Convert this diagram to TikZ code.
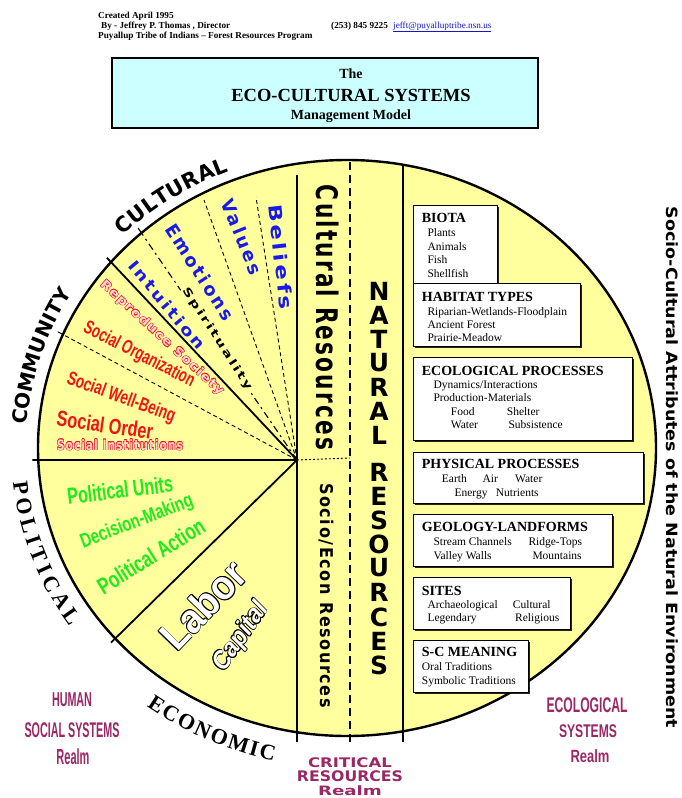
\documentclass[tikz,border=0pt]{standalone}
\usepackage{fontspec}
\usepackage{graphicx}
\usetikzlibrary{calc,decorations.text,shadows}
\setmainfont{Liberation Serif}
\newfontfamily\serifrm{Liberation Serif}
\newfontfamily\armf{Liberation Sans}
\newfontfamily\heavyf{DejaVu Sans}
\newfontfamily\spacedf{DejaVu Sans}[LetterSpace=14]
\newfontfamily\colf{DejaVu Sans}[LetterSpace=10]
\newfontfamily\widef{DejaVu Sans}[LetterSpace=8]

\definecolor{pie}{RGB}{255,255,158}
\definecolor{titlefill}{RGB}{204,255,255}
\definecolor{realm}{RGB}{153,40,100}
\definecolor{cblue}{RGB}{25,25,235}
\definecolor{sred}{RGB}{240,20,20}
\definecolor{pinkfill}{RGB}{255,215,215}
\definecolor{pgreen}{RGB}{30,235,30}
\definecolor{linkblue}{RGB}{20,20,200}

% text scaled to a given width and total height (in pt)
\newcommand\fit[3]{\resizebox*{#1pt}{#2pt}{#3}}

% outlined lettering: #1 outline colour, #2 fill colour, #3 outline offset, #4 text
\newbox\olbox
\newdimen\olA \newdimen\olB
\newcommand\outlined[4]{%
  \setbox\olbox=\hbox{#4}%
  \olA=#3\relax \olB=0.707\olA
  \rlap{\color{#1}\hskip\olA\copy\olbox}%
  \rlap{\color{#1}\hskip-\olA\copy\olbox}%
  \rlap{\color{#1}\raise\olA\copy\olbox}%
  \rlap{\color{#1}\lower\olA\copy\olbox}%
  \rlap{\color{#1}\hskip\olB\raise\olB\copy\olbox}%
  \rlap{\color{#1}\hskip-\olB\raise\olB\copy\olbox}%
  \rlap{\color{#1}\hskip\olB\lower\olB\copy\olbox}%
  \rlap{\color{#1}\hskip-\olB\lower\olB\copy\olbox}%
  {\color{#2}\box\olbox}}

\begin{document}
\begin{tikzpicture}[x=1pt,y=-1pt,
  txt/.style={inner sep=0pt, outer sep=0pt, anchor=center},
  hdr/.style={anchor=base west, inner sep=0pt, font=\serifrm\bfseries\fontsize{9.2}{11}\selectfont},
  ttl/.style={anchor=base, inner sep=0pt, font=\serifrm\bfseries},
  head/.style={anchor=base west, inner sep=0pt, font=\serifrm\bfseries\fontsize{14}{16}\selectfont},
  item/.style={anchor=base west, inner sep=0pt, font=\serifrm\fontsize{11.5}{13}\selectfont},
  panel/.style={draw=black, line width=1.1pt, fill=white, anchor=north west, inner sep=0pt,
    drop shadow={shadow xshift=1.4pt, shadow yshift=-1.4pt, fill=black, opacity=0.85}},
  nr/.style={txt, font=\heavyf\bfseries\fontsize{25}{25}\selectfont},
  divider/.style={line width=1.8pt},
  softdash/.style={line width=0.9pt, dash pattern=on 4pt off 3pt},
  rim/.style={line width=2.4pt},
  rimtext/.style={decorate, decoration={text along path, text align={fit to path}, text={#1}}},
]
\useasboundingbox[fill=white] (0,0) rectangle (682,798);

% ---------- header ----------
\node[hdr] (created) at (98,18.3) {Created April 1995};
\node[hdr] (author) at (101,28.3) {By - Jeffrey P. Thomas , Director};
\node[hdr] (tribe) at (98,38) {Puyallup Tribe of Indians – Forest Resources Program};
\node[hdr] (phone) at (331,28.3) {(253) 845 9225};
\node[hdr, font=\serifrm\fontsize{9.2}{11}\selectfont, text=linkblue] (mail) at (393,28.3) {\underline{jefft@puyalluptribe.nsn.us}};

% ---------- title ----------
\node[draw=black, line width=2pt, fill=titlefill, anchor=north west,
      minimum width=426pt, minimum height=70pt, inner sep=0pt] (titlebox) at (111,57) {};
\node[ttl, font=\serifrm\bfseries\fontsize{14}{16}\selectfont] (the) at (351,78) {The};
\node[ttl, font=\serifrm\bfseries\fontsize{18.5}{20}\selectfont] (eco) at (351,101) {ECO-CULTURAL SYSTEMS};
\node[ttl, font=\serifrm\bfseries\fontsize{14}{16}\selectfont] (mgmt) at (351,119) {Management Model};

% ---------- the wheel ----------
\coordinate (ctr) at (347,448);
\coordinate (hub) at (297,460);
\fill[pie] (ctr) ellipse [x radius=309, y radius=288];

% rim points of the sector dividers
\coordinate (rA) at ([shift={(347,448)}]220.2:309 and 288);
\coordinate (rB) at ([shift={(347,448)}]203.2:309 and 288);
\coordinate (rC) at ([shift={(347,448)}]228.3:309 and 288);
\coordinate (rD) at ([shift={(347,448)}]177.6:309 and 288);
\coordinate (rE) at ([shift={(347,448)}]138.6:309 and 288);
\coordinate (dV) at (204,200);
\coordinate (dB) at (256,197);

\draw[divider] (hub) -- (rA) -- ($(rA)!-6pt!(hub)$);
\draw[divider] (hub) -- (rD) -- ($(rD)!-6pt!(hub)$);
\draw[divider] (hub) -- (rE) -- ($(rE)!-6pt!(hub)$);
\draw[softdash] (hub) -- (rB);
\draw[line width=0.9pt] (rB) -- ($(rB)!-6pt!(hub)$);
\draw[line width=1.1pt, dash pattern=on 7pt off 4pt on 2pt off 4pt] (hub) -- (rC);
\draw[line width=1.1pt] (rC) -- ($(rC)!-6pt!(hub)$);
\draw[softdash] (hub) -- (dV);
\draw[softdash] (hub) -- (dB);

% resource columns
\coordinate (c1t) at (297,175);  \coordinate (c1b) at (297,742);
\coordinate (c2t) at (350,162);  \coordinate (c2b) at (350,742);
\coordinate (c3t) at (403,165);  \coordinate (c3b) at (403,742);
\draw[divider] (c1t) -- (c1b);
\draw[line width=1.8pt, dash pattern=on 8pt off 5pt] (c2t) -- (c2b);
\draw[line width=2.2pt] (c3t) -- (c3b);
\coordinate (dotend) at (350,458);
\draw[line width=0.9pt, dash pattern=on 2pt off 2pt] (hub) -- (dotend);

\draw[rim] (ctr) ellipse [x radius=309, y radius=288];

% ---------- rim labels ----------
\path[rimtext={|\heavyf\bfseries\fontsize{21}{21}\selectfont|CULTURAL}]
  ([shift={(347,448)}]225.4:319 and 298) arc[start angle=225.4, end angle=248.2, x radius=319, y radius=298];
\path[rimtext={|\heavyf\bfseries\fontsize{20}{20}\selectfont|COMMUNITY}]
  ([shift={(347,448)}]184.4:321 and 300) arc[start angle=184.4, end angle=211, x radius=321, y radius=300];
\path[rimtext={|\serifrm\bfseries\fontsize{22}{22}\selectfont|POLITICAL}]
  ([shift={(347,448)}]173.8:336 and 315) arc[start angle=173.8, end angle=145.4, x radius=336, y radius=315];
\path[rimtext={|\serifrm\bfseries\fontsize{22}{22}\selectfont|ECONOMIC}]
  ([shift={(347,448)}]126:341 and 320) arc[start angle=126, end angle=102.4, x radius=341, y radius=320];

% ---------- cultural sector ----------
\node[txt, rotate=-83.5, text=cblue] (beliefs) at (281,257) {\fit{106}{14}{\spacedf\bfseries Beliefs}};
\node[txt, rotate=-68, text=cblue] (values) at (242,237) {\fit{80}{14}{\spacedf\bfseries Values}};
\node[txt, rotate=-57, text=cblue] (emotions) at (200,272) {\fit{111}{14}{\spacedf\bfseries Emotions}};
\node[txt, rotate=-50, text=cblue] (intuition) at (167,305) {\fit{110}{12}{\spacedf\bfseries Intuition}};
\node[txt, rotate=-57, fill=pie, inner sep=1pt] (spirit) at (217,339) {\fit{119}{10.5}{\spacedf\bfseries Spirituality}};

% ---------- community sector ----------
\node[txt, rotate=-42.5] (reproduce) at (162,338)
  {\outlined{sred}{pinkfill}{0.5pt}{\fit{163}{12}{\widef\bfseries Reproduce Society}}};
\node[txt, rotate=-27, text=sred] (socorg) at (139,355) {\fit{122}{18}{\armf\bfseries Social Organization}};
\node[txt, rotate=-20, text=sred] (wellbeing) at (121,398) {\fit{114}{18}{\armf\bfseries Social Well-Being}};
\node[txt, rotate=-8, text=sred] (order) at (105,425) {\fit{97}{16}{\armf\bfseries Social Order}};
\node[txt] (institutions) at (120,445)
  {\outlined{sred}{pinkfill}{0.5pt}{\fit{126}{11}{\widef\bfseries Social Institutions}}};

% ---------- political sector ----------
\node[txt, rotate=7, text=pgreen] (polunits) at (120,490) {\fit{106}{17}{\armf\bfseries Political Units}};
\node[txt, rotate=21, text=pgreen] (decision) at (137,522) {\fit{119}{19}{\armf\bfseries Decision-Making}};
\node[txt, rotate=32, text=pgreen] (polaction) at (151,556) {\fit{122}{17}{\armf\bfseries Political Action}};

% ---------- economic sector ----------
\node[txt, rotate=46] (labor) at (203,605)
  {\outlined{black}{white}{0.9pt}{\fit{105}{30}{\armf\bfseries Labor}}};
\node[txt, rotate=55] (capital) at (241,637)
  {\outlined{black}{white}{0.8pt}{\fit{78}{24}{\armf\bfseries\itshape Capital}}};

% ---------- resource columns ----------
\node[txt, rotate=-90] (culres) at (328,317.5) {\fit{265}{23}{\colf\bfseries Cultural Resources}};
\node[txt, rotate=-90] (socres) at (326,595.5) {\fit{225}{15}{\colf\bfseries Socio/Econ Resources}};
\foreach \l/\y [count=\i] in {N/291,A/315,T/339,U/363,R/387,A/411,L/435,
    R/472,E/496,S/520,O/544,U/568,R/592.5,C/617,E/641,S/665}
  \node[nr] (nat\i) at (379,\y) {\l};

% ---------- natural resource panels ----------
\node[panel, minimum width=84pt, minimum height=77.7pt] (biota) at (412.7,205) {};
\node[panel, minimum width=167.3pt, minimum height=63.3pt] (habitat) at (412.7,282.7) {};
\node[panel, minimum width=219.6pt, minimum height=83.3pt] (ecoproc) at (412.7,356.7) {};
\node[panel, minimum width=230.6pt, minimum height=51.6pt] (physproc) at (412.7,451.7) {};
\node[panel, minimum width=199pt, minimum height=52pt] (geology) at (412.7,514) {};
\node[panel, minimum width=157.3pt, minimum height=52.6pt] (sites) at (412.7,576.7) {};
\node[panel, minimum width=115.6pt, minimum height=51.7pt] (scmean) at (412.7,640) {};

\node[head] (biotah) at (421.7,222.7) {BIOTA};
\node[item] (b1) at (427.3,236.7) {Plants};
\node[item] (b2) at (427.3,250) {Animals};
\node[item] (b3) at (427.3,263.3) {Fish};
\node[item] (b4) at (427.3,277.3) {Shellfish};

\node[head] (habh) at (421.7,301.7) {HABITAT TYPES};
\node[item] (h1) at (427.3,315) {Riparian-Wetlands-Floodplain};
\node[item] (h2) at (427.3,328.3) {Ancient Forest};
\node[item] (h3) at (427.3,341.7) {Prairie-Meadow};

\node[head] (ecoh) at (421.7,375) {ECOLOGICAL PROCESSES};
\node[item] (e1) at (433.3,388.3) {Dynamics/Interactions};
\node[item] (e2) at (433.3,401.7) {Production-Materials};
\node[item] (e3) at (450.7,415) {Food};
\node[item] (e4) at (506.7,415) {Shelter};
\node[item] (e5) at (450.7,428.3) {Water};
\node[item] (e6) at (508.3,428.3) {Subsistence};

\node[head] (physh) at (421.7,468.3) {PHYSICAL PROCESSES};
\node[item] (p1) at (441.7,482.7) {Earth};
\node[item] (p2) at (482.3,482.7) {Air};
\node[item] (p3) at (515,482.7) {Water};
\node[item] (p4) at (454.3,496) {Energy};
\node[item] (p5) at (495.7,496) {Nutrients};

\node[head] (geoh) at (421.7,531.7) {GEOLOGY-LANDFORMS};
\node[item] (g1) at (433.3,545.7) {Stream Channels};
\node[item] (g2) at (528.3,545.7) {Ridge-Tops};
\node[item] (g3) at (433.3,559) {Valley Walls};
\node[item] (g4) at (532.3,559) {Mountains};

\node[head] (sith) at (421.7,595) {SITES};
\node[item] (s1) at (427.3,608.3) {Archaeological};
\node[item] (s2) at (512.7,608.3) {Cultural};
\node[item] (s3) at (427.3,621.7) {Legendary};
\node[item] (s4) at (515,621.7) {Religious};

\node[head] (sch) at (421.7,656.7) {S-C MEANING};
\node[item] (m1) at (421.7,670.7) {Oral Traditions};
\node[item] (m2) at (421.7,684) {Symbolic Traditions};

% ---------- side caption ----------
\node[txt, rotate=-90] (attrib) at (672,467.5)
  {\fit{521}{12}{\heavyf\bfseries Socio-Cultural Attributes of the Natural Environment}};

% ---------- realm captions ----------
\node[txt, text=realm] (hum1) at (72,700) {\fit{40}{14}{\armf\bfseries HUMAN}};
\node[txt, text=realm] (hum2) at (72,730) {\fit{95}{15}{\armf\bfseries SOCIAL SYSTEMS}};
\node[txt, text=realm] (hum3) at (73,757) {\fit{33}{16}{\armf\bfseries Realm}};

\node[txt, text=realm] (crit1) at (350,762.5) {\fit{84}{10}{\heavyf\bfseries CRITICAL}};
\node[txt, text=realm] (crit2) at (350,776) {\fit{106}{11}{\heavyf\bfseries RESOURCES}};
\node[txt, text=realm] (crit3) at (350,790.5) {\fit{64}{10}{\heavyf\bfseries Realm}};

\node[txt, text=realm] (ecol1) at (587,705.5) {\fit{81}{15}{\armf\bfseries ECOLOGICAL}};
\node[txt, text=realm] (ecol2) at (588,731.5) {\fit{58}{13}{\armf\bfseries SYSTEMS}};
\node[txt, text=realm] (ecol3) at (590,756.5) {\fit{39}{13}{\armf\bfseries Realm}};
\end{tikzpicture}
\end{document}
